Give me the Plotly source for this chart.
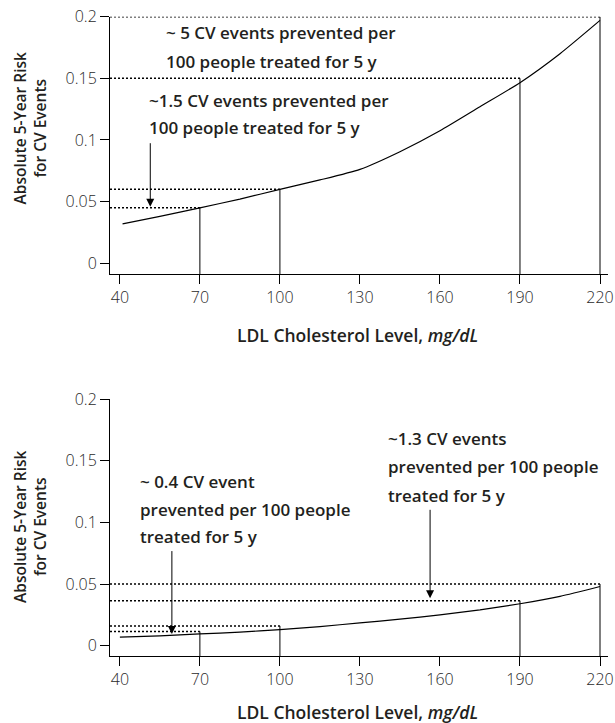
import plotly.graph_objects as go

# ---- data ----
ldl_top = [41, 55, 70, 85, 100, 115, 130, 145, 160, 175, 190, 205, 220]
risk_top = [0.032, 0.038, 0.045, 0.052, 0.060, 0.0676, 0.0762, 0.0905, 0.1075, 0.127, 0.1465, 0.170, 0.197]

ldl_bot = [40, 55, 70, 85, 100, 115, 130, 145, 160, 175, 190, 205, 220]
risk_bot = [0.007, 0.008, 0.0095, 0.011, 0.013, 0.0155, 0.0185, 0.0215, 0.025, 0.029, 0.034, 0.040, 0.048]

marker_x = [70, 100, 190, 220]
levels_top = [0.045, 0.060, 0.150, 0.200]
levels_bot = [0.0115, 0.016, 0.0365, 0.050]

x_ticks = [40, 70, 100, 130, 160, 190, 220]
y_ticks = [0, 0.05, 0.1, 0.15, 0.2]
y_ticktext = ["0", "0.05", "0.1", "0.15", "0.2"]

text_top_a = ["~ 5 CV events prevented per", "100 people treated for 5 y"]
text_top_b = ["~1.5 CV events prevented per", "100 people treated for 5 y"]
text_bot_a = ["~ 0.4 CV event", "prevented per 100 people", "treated for 5 y"]
text_bot_b = ["~1.3 CV events", "prevented per 100 people", "treated for 5 y"]

y_title = "Absolute 5-Year Risk<br>for CV Events"
x_title = "LDL Cholesterol Level, <i>mg/dL</i>"

XR = [36.3, 223.0]
YR_TOP = [-0.0087, 0.2]
YR_BOT = [-0.0084, 0.2]

W, H = 615, 723
TXT = "#231f20"
FONT_NOTE = dict(family="Open Sans", size=17, color=TXT, weight=600)
FONT_YT = dict(family="Open Sans", size=15.5, color=TXT, weight=600)
FONT_XT = dict(family="Open Sans", size=17.5, color=TXT, weight=600)
FONT_TICK = dict(family="Open Sans", size=16, color="#2a2a2a", weight=300)

fig = go.Figure()

def add_panel(xs, ys, levels, xa, ya, yr):
    fig.add_trace(go.Scatter(x=xs, y=ys, mode="lines",
                             line=dict(color="black", width=1.2, shape="spline", smoothing=0.6),
                             xaxis=xa, yaxis=ya, showlegend=False, hoverinfo="skip"))
    for mx, lv in zip(marker_x, levels):
        fig.add_trace(go.Scatter(x=[XR[0], mx], y=[lv, lv], mode="lines",
                                 line=dict(color="black", width=1.5, dash="2px,2px"),
                                 xaxis=xa, yaxis=ya, showlegend=False, hoverinfo="skip", cliponaxis=False))
        fig.add_trace(go.Scatter(x=[mx, mx], y=[yr[0], lv], mode="lines",
                                 line=dict(color="black", width=1),
                                 xaxis=xa, yaxis=ya, showlegend=False, hoverinfo="skip", cliponaxis=False))

add_panel(ldl_top, risk_top, levels_top, "x", "y", YR_TOP)
add_panel(ldl_bot, risk_bot, levels_bot, "x2", "y2", YR_BOT)

axis_common = dict(showline=True, linecolor="black", linewidth=1, ticks="outside", ticklen=9,
                   tickcolor="black", tickwidth=1, showgrid=False, zeroline=False,
                   tickfont=FONT_TICK, automargin=False, fixedrange=True)

x0, x1 = 110 / W, 608 / W
fig.update_layout(
    width=W, height=H, margin=dict(l=0, r=0, t=0, b=0),
    paper_bgcolor="white", plot_bgcolor="white",
    xaxis=dict(domain=[x0, x1], range=XR, tickvals=x_ticks, anchor="y", **axis_common),
    yaxis=dict(domain=[(H - 274) / H, (H - 16.7) / H], range=YR_TOP, tickvals=y_ticks,
               ticktext=y_ticktext, anchor="x", **axis_common),
    xaxis2=dict(domain=[x0, x1], range=XR, tickvals=x_ticks, anchor="y2", **axis_common),
    yaxis2=dict(domain=[(H - 656) / H, (H - 399.3) / H], range=YR_BOT, tickvals=y_ticks,
                ticktext=y_ticktext, anchor="x2", **axis_common),
)

ann = []

def add_lines(lines, x, y0, dy, xr, yr):
    for i, t in enumerate(lines):
        ann.append(dict(text=t, x=x, y=y0 - i * dy, xref=xr, yref=yr, xanchor="left", yanchor="middle",
                        showarrow=False, font=FONT_NOTE))

add_lines(text_top_a, 56.5, 0.1868, 0.0228, "x", "y")
add_lines(text_top_b, 50.0, 0.1324, 0.0224, "x", "y")
add_lines(text_bot_a, 46.9, 0.1331, 0.0223, "x2", "y2")
add_lines(text_bot_b, 139.8, 0.1683, 0.0230, "x2", "y2")

def add_arrow(x, y_tail, y_tip, xr, yr):
    ann.append(dict(text="", x=x, y=y_tip, ax=x, ay=y_tail, xref=xr, yref=yr, axref=xr, ayref=yr,
                    showarrow=True, arrowhead=2, arrowsize=1.6, arrowwidth=1, arrowcolor="black"))

add_arrow(51.4, 0.0986, 0.0459, "x", "y")
add_arrow(59.5, 0.078, 0.0095, "x2", "y2")
add_arrow(156.3, 0.1115, 0.0384, "x2", "y2")

# axis titles
for yc, xc_t in [((H - 128) / H, (H - 335) / H), ((H - 526.5) / H, (H - 712) / H)]:
    ann.append(dict(text=y_title, x=29.5 / W, y=yc, xref="paper", yref="paper", textangle=-90,
                    xanchor="center", yanchor="middle", showarrow=False, font=FONT_YT))
    ann.append(dict(text=x_title, x=357 / W, y=xc_t, xref="paper", yref="paper",
                    xanchor="center", yanchor="middle", showarrow=False, font=FONT_XT))

fig.update_layout(annotations=ann)
fig.write_html("out.html", config={"displayModeBar": False},
               post_script="document.body.style.margin='0';document.body.style.overflow='hidden';")
